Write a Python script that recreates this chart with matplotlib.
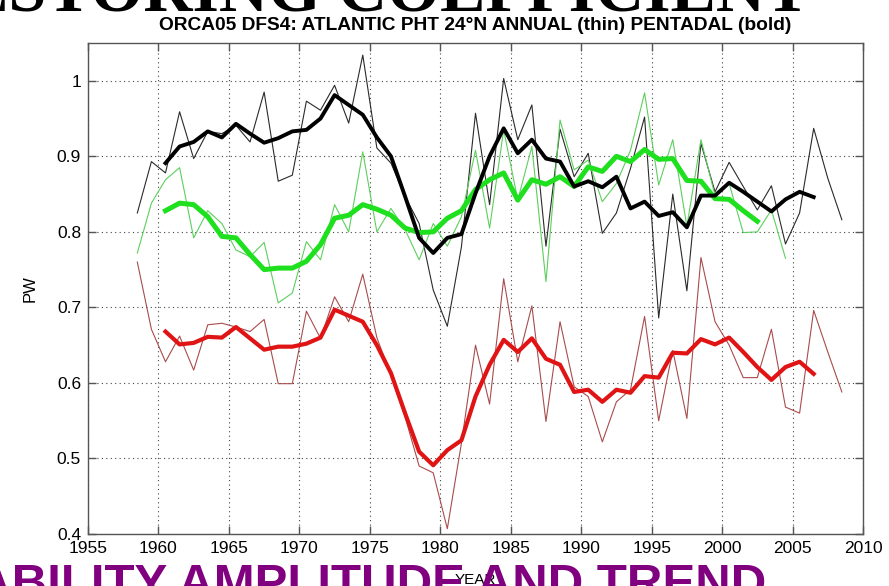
import numpy as np
import matplotlib; matplotlib.use("Agg")
import matplotlib.pyplot as plt

# annual values sit mid-year, pentadal running means are centred the same way
yr_annual = np.arange(1958.5, 2009.0, 1.0)       # 1958.5 .. 2008.5
yr_annual_g = np.arange(1958.5, 2005.0, 1.0)     # green annual stops 2004.5
yr_pent = np.arange(1960.5, 2007.0, 1.0)         # 1960.5 .. 2006.5
yr_pent_g = np.arange(1960.5, 2003.0, 1.0)       # green pentadal stops 2002.5

black_annual = [0.825, 0.893, 0.878, 0.959, 0.897, 0.933, 0.930, 0.941, 0.919, 0.985,
                0.867, 0.875, 0.973, 0.961, 0.994, 0.944, 1.034, 0.911, 0.891, 0.847,
                0.811, 0.723, 0.675, 0.780, 0.957, 0.836, 1.003, 0.922, 0.968, 0.781,
                0.936, 0.873, 0.904, 0.798, 0.825, 0.884, 0.952, 0.686, 0.850, 0.722,
                0.917, 0.853, 0.892, 0.860, 0.829, 0.861, 0.784, 0.825, 0.937, 0.871,
                0.816]
black_pent = [0.891, 0.913, 0.919, 0.933, 0.925, 0.943, 0.930, 0.918, 0.924, 0.933,
              0.935, 0.950, 0.981, 0.968, 0.955, 0.925, 0.900, 0.847, 0.792, 0.772,
              0.792, 0.797, 0.851, 0.900, 0.937, 0.904, 0.922, 0.897, 0.893, 0.860,
              0.867, 0.859, 0.873, 0.831, 0.840, 0.821, 0.826, 0.806, 0.848, 0.848,
              0.865, 0.853, 0.840, 0.827, 0.843, 0.853, 0.846]

green_annual = [0.772, 0.838, 0.869, 0.885, 0.792, 0.828, 0.811, 0.776, 0.767, 0.786,
                0.706, 0.719, 0.787, 0.763, 0.836, 0.800, 0.906, 0.800, 0.831, 0.803,
                0.763, 0.811, 0.781, 0.820, 0.908, 0.805, 0.935, 0.842, 0.913, 0.734,
                0.948, 0.882, 0.895, 0.840, 0.864, 0.908, 0.984, 0.862, 0.922, 0.807,
                0.922, 0.848, 0.864, 0.799, 0.800, 0.829, 0.765]
green_pent = [0.828, 0.838, 0.836, 0.820, 0.794, 0.792, 0.770, 0.750, 0.752, 0.752,
              0.761, 0.783, 0.818, 0.822, 0.836, 0.830, 0.822, 0.805, 0.799, 0.800,
              0.818, 0.828, 0.856, 0.869, 0.878, 0.842, 0.869, 0.863, 0.873, 0.860,
              0.886, 0.880, 0.900, 0.893, 0.909, 0.896, 0.897, 0.868, 0.867, 0.844,
              0.843, 0.828, 0.814]

red_annual = [0.760, 0.671, 0.628, 0.662, 0.617, 0.677, 0.679, 0.674, 0.668, 0.684,
              0.599, 0.599, 0.695, 0.659, 0.714, 0.681, 0.744, 0.660, 0.610, 0.555,
              0.490, 0.481, 0.407, 0.520, 0.650, 0.572, 0.738, 0.628, 0.702, 0.549,
              0.681, 0.595, 0.582, 0.522, 0.575, 0.591, 0.688, 0.550, 0.643, 0.553,
              0.766, 0.681, 0.650, 0.607, 0.607, 0.671, 0.568, 0.560, 0.696, 0.641,
              0.588]
red_pent = [0.668, 0.651, 0.653, 0.661, 0.660, 0.674, 0.659, 0.644, 0.648, 0.648,
            0.652, 0.660, 0.697, 0.689, 0.681, 0.650, 0.613, 0.560, 0.509, 0.491,
            0.511, 0.524, 0.582, 0.624, 0.657, 0.641, 0.659, 0.632, 0.624, 0.588,
            0.591, 0.575, 0.591, 0.587, 0.609, 0.607, 0.640, 0.639, 0.658, 0.651,
            0.660, 0.641, 0.621, 0.604, 0.621, 0.628, 0.612]

xticks = list(range(1955, 2011, 5))
yticks = [0.4, 0.5, 0.6, 0.7, 0.8, 0.9, 1.0]
yticklabels = ["0.4", "0.5", "0.6", "0.7", "0.8", "0.9", "1"]

W, H = 889, 586
fig = plt.figure(figsize=(W/100, H/100), dpi=100)
ax = fig.add_axes([88/W, 1-534/H, (863-88)/W, (534-43)/H])

# thin annual curves
ax.plot(yr_annual, black_annual, color="#2a2a2a", lw=0.8)
ax.plot(yr_annual_g, green_annual, color="#5ccf5c", lw=0.8)
ax.plot(yr_annual, red_annual, color="#a84c4c", lw=0.8)
# bold pentadal curves
ax.plot(yr_pent, red_pent, color="#e01414", lw=3.0, solid_joinstyle="round")
ax.plot(yr_pent_g, green_pent, color="#1ee01e", lw=3.6, solid_joinstyle="round")
ax.plot(yr_pent, black_pent, color="black", lw=2.8, solid_joinstyle="round")

ax.set_xlim(1955, 2010)
ax.set_ylim(0.4, 1.05)
ax.set_xticks(xticks)
ax.set_yticks(yticks)
ax.set_yticklabels(yticklabels)
ax.grid(True, color="#444444", lw=0.8, ls=(0, (1, 3)))
ax.tick_params(direction="in", length=6, width=1, top=True, right=True,
               labelsize=12.5, color="#555555", pad=5)
for sp in ax.spines.values():
    sp.set_color("#555555"); sp.set_linewidth(1.0)
for lab in ax.get_xticklabels() + ax.get_yticklabels():
    lab.set_family(["Liberation Sans", "DejaVu Sans"])

ax.set_ylabel("PW", fontsize=12, family=["Liberation Sans"], labelpad=14)
ax.set_xlabel("YEAR", fontsize=11, family=["Liberation Sans"], labelpad=12)
ax.set_title("ORCA05 DFS4: ATLANTIC PHT 24°N ANNUAL (thin) PENTADAL (bold)",
             fontsize=13.8, fontweight="bold",
             family=["Liberation Sans"], pad=9)

# slide headings around the plot, clipped by the figure edge
fig.text(810/W, 1-11/H, "RESTORING COEFFICIENT", ha="right", va="baseline",
         fontsize=49, fontweight="bold", family=["Liberation Serif"], color="black")
fig.text(766/W, 1-598/H, "VARIABILITY AMPLITUDE AND TREND", ha="right", va="baseline",
         fontsize=35.5, fontweight="bold",
         family=["Liberation Sans"], color="#800080")

fig.savefig("out.png", dpi=100)
